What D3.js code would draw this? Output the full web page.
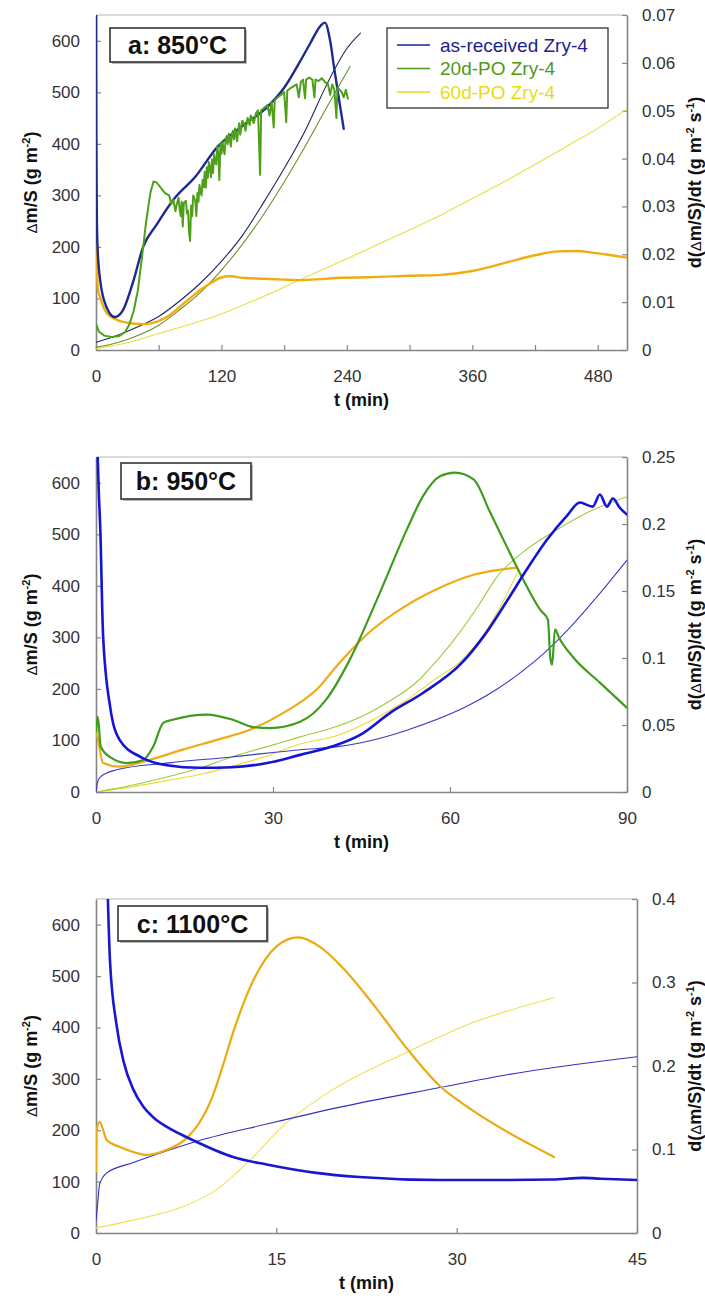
<!DOCTYPE html>
<html><head><meta charset="utf-8">
<script src="https://cdn.jsdelivr.net/npm/d3@7"></script>
<style>body{margin:0;background:#fff}svg{display:block;font-family:"Liberation Sans",Arial,sans-serif}</style>
</head><body><svg id="c" width="705" height="1306"></svg>
<script>
// ---------- Panel a: 850°C (t in min) ----------
const aXTicks = [0,60,120,180,240,300,360,420,480];
const aXLabels = [0,120,240,360,480];
const aLeftTicks = [0,100,200,300,400,500,600];
const aRightTicks = [0,0.01,0.02,0.03,0.04,0.05,0.06,0.07];
// mass gain (left axis, g m-2)
const aAsRecMass = [[0,15],[20,28],[40,45],[60,65],[80,95],[100,130],[120,172],[140,222],[160,285],[180,352],[200,425],[220,512],[227,540],[240,585],[253,615]];
const a20dMass = [[0,5],[20,14],[40,28],[60,48],[80,78],[100,112],[120,155],[140,205],[160,262],[180,326],[200,395],[220,468],[243,550]];
const a60dMass = [[0,3],[30,14],[60,32],[90,50],[120,70],[150,95],[180,122],[210,150],[240,177],[270,205],[300,233],[330,262],[360,294],[390,326],[420,360],[450,395],[480,430],[508,468]];
// rates (right axis, g m-2 s-1)
const aAsRecRate = [[0,0.0754],[0.3,0.0452],[0.8,0.028],[1.5,0.0215],[4,0.0146],[10,0.009],[18,0.0069],[26,0.0084],[36,0.0146],[45,0.0215],[58,0.0262],[74,0.0314],[95,0.0362],[116,0.0424],[140,0.0468],[164,0.0508],[180,0.0548],[195,0.0602],[205,0.0641],[215,0.0678],[219,0.0684],[224,0.0646],[228,0.0587],[233,0.0517],[237,0.0462]];
const a20dRate = [[0,0.0054],[3,0.0038],[8,0.003],[15,0.0027],[22,0.0029],[28,0.0038],[32,0.0054],[36,0.0081],[40,0.0124],[44,0.0194],[48,0.0269],[52,0.0328],[55,0.0352],[58,0.035],[62,0.0339],[66,0.0328],[70,0.0323],[72,0.0305],[74,0.0314],[76,0.029],[77,0.0302],[79,0.0318],[80,0.0295],[81,0.028],[82,0.031],[83,0.0258],[84,0.0307],[86,0.0312],[87,0.0285],[88,0.0291],[89,0.0248],[90,0.0228],[91,0.0302],[92,0.028],[93,0.0323],[95,0.0312],[96,0.028],[97,0.0328],[98,0.031],[99,0.0345],[100,0.033],[101,0.0323],[102,0.0355],[103,0.034],[104,0.0372],[105,0.0339],[106,0.0382],[107,0.036],[108,0.0393],[109,0.038],[110,0.0361],[111,0.0398],[112,0.037],[113,0.0409],[114,0.039],[115,0.0388],[116,0.0425],[117,0.041],[118,0.0355],[119,0.0431],[120,0.041],[121,0.0436],[122,0.042],[123,0.0409],[124,0.044],[125,0.0447],[126,0.043],[127,0.0452],[128,0.044],[129,0.0425],[130,0.045],[131,0.0458],[132,0.044],[133,0.0463],[135,0.0436],[136,0.046],[137,0.0474],[138,0.045],[140,0.0479],[142,0.047],[143,0.0458],[145,0.0485],[147,0.047],[148,0.049],[151,0.0474],[153,0.0495],[155,0.0501],[157,0.0366],[158,0.0501],[161,0.0506],[164,0.0512],[166,0.049],[168,0.0519],[170,0.0465],[171,0.0522],[174,0.0528],[177,0.0533],[180,0.0539],[182,0.0476],[183,0.0542],[186,0.0547],[189,0.0551],[192,0.0555],[194,0.0528],[196,0.056],[198,0.0565],[200,0.0526],[201,0.0565],[204,0.0569],[207,0.0565],[209,0.0528],[210,0.0565],[213,0.0562],[216,0.0568],[219,0.056],[222,0.0555],[224,0.0533],[226,0.0555],[228,0.0544],[230,0.0485],[231,0.0549],[233,0.0544],[235,0.0539],[237,0.0528],[239,0.0544],[241,0.0525]];
const a60dRate = [[0,0.022],[1,0.016],[2,0.0125],[4,0.011],[10,0.0078],[20,0.0063],[30,0.0057],[45,0.0054],[58,0.0059],[70,0.0072],[80,0.009],[90,0.0108],[100,0.0126],[110,0.014],[119,0.0151],[128,0.0154],[140,0.0151],[160,0.0149],[180,0.0147],[195,0.0146],[215,0.0148],[234,0.0151],[260,0.0152],[300,0.0155],[330,0.0157],[360,0.0165],[393,0.0183],[420,0.0198],[442,0.0206],[460,0.0207],[473,0.0204],[490,0.0199],[508,0.0193]];

// ---------- Panel b: 950°C ----------
const bXTicks = [0,30,60,90];
const bLeftTicks = [0,100,200,300,400,500,600];
const bRightTicks = [0,0.05,0.1,0.15,0.2,0.25];
const bAsRecMass = [[0,0],[0.3,20],[0.7,29],[3.5,43],[12,56],[23,68],[34.6,82],[41,88],[44.7,95],[52.7,120],[64,173],[68,200],[72,232],[76,270],[80,315],[85,380],[90,450]];
const b20dMass = [[0,0],[3,6],[8,18],[12,29],[18,48],[23,68],[29,88],[34.6,107],[41,128],[46,152],[50,178],[54,210],[58,258],[62,315],[65,365],[68,418],[72,462],[78,508],[84,546],[90,573]];
const b60dMass = [[0,0],[6,10],[12,22],[18,35],[23,50],[29,70],[34.6,93],[41,110],[46,135],[52.7,179],[57,215],[62,256],[66,310],[69,370],[71.4,425]];
const bAsRecRate = [[0.15,0.27],[0.5,0.22],[0.7,0.2],[1.2,0.117],[2.4,0.0635],[4,0.0389],[7.5,0.0262],[12,0.02],[17.6,0.0181],[23,0.0185],[29,0.0216],[34.6,0.0277],[40,0.0339],[44.7,0.0424],[49.8,0.0589],[55.4,0.0739],[62,0.0963],[66,0.118],[70,0.145],[73,0.166],[76.4,0.188],[79.8,0.206],[82,0.216],[84.2,0.213],[85.4,0.222],[86.6,0.213],[87.6,0.219],[88.8,0.212],[90,0.207]];
const b20dRate = [[0,0.045],[0.3,0.056],[0.8,0.034],[2.4,0.026],[5.2,0.0216],[8,0.0239],[9.7,0.0339],[11.4,0.0516],[13,0.0539],[18.8,0.0578],[23.2,0.0539],[26.6,0.0485],[29.5,0.0477],[34.6,0.0524],[39,0.0689],[43,0.0986],[48,0.1475],[52.7,0.196],[55.4,0.2206],[58.3,0.2356],[60.8,0.2383],[64,0.2333],[66.8,0.2087],[69.6,0.1833],[72.4,0.1586],[75.3,0.1359],[76.6,0.1286],[77,0.1001],[77.3,0.095],[77.8,0.1213],[78.5,0.115],[80.8,0.1009],[85.4,0.0816],[90,0.0628]];
const b60dRate = [[0,0.046],[0.3,0.04],[1.2,0.0216],[4,0.0189],[9,0.0239],[14.7,0.0316],[20.5,0.0389],[26,0.0462],[31.7,0.0589],[37.4,0.0765],[41.4,0.097],[45.9,0.1175],[52.7,0.1395],[58.3,0.1525],[64,0.1621],[71.4,0.1675]];

// ---------- Panel c: 1100°C ----------
const cXTicks = [0,15,30,45];
const cLeftTicks = [0,100,200,300,400,500,600];
const cRightTicks = [0,0.1,0.2,0.3,0.4];
const cAsRecMass = [[0,25],[0.15,60],[0.3,95],[0.9,117],[3.1,137],[5.9,160],[8.6,180],[14.2,212],[20.3,245],[28.6,283],[34.2,308],[45,343]];
const c60dMass = [[0,10],[3.1,25],[7.2,51],[10,84],[12.8,142],[15.5,207],[19.7,279],[25.8,351],[31.3,409],[38.1,458]];
const cAsRecRate = [[0.95,0.42],[1.16,0.327],[1.7,0.25],[2.3,0.205],[3.1,0.172],[3.9,0.152],[4.8,0.138],[5.9,0.127],[8.1,0.111],[11.4,0.091],[14.2,0.082],[18.3,0.072],[21.9,0.067],[28.6,0.0634],[34.1,0.0634],[38,0.064],[40.5,0.066],[42,0.065],[45,0.0634]];
const c60dRate = [[0,0.0738],[0.05,0.123],[0.3,0.133],[0.9,0.111],[2,0.103],[3.1,0.097],[4.2,0.0935],[5.9,0.0996],[7.5,0.113],[8.6,0.132],[9.6,0.16],[10.5,0.198],[11.4,0.24],[13.1,0.303],[15,0.343],[16.8,0.354],[18.6,0.343],[20.5,0.318],[23,0.275],[25.8,0.222],[28.6,0.176],[30.8,0.152],[34.1,0.122],[38.1,0.091]];

const legendNames = ["as-received Zry-4","20d-PO Zry-4","60d-PO Zry-4"];
const legendColors = ["#1c2290","#4e9a14","#e8dc10"];

const svg = d3.select("#c");
const defs = svg.append("defs");

const panels = [
  {id:"a", left:96, right:627, top:15, bottom:350, xDomain:[0,508], rDomain:[0,0.07],
   xTicks:aXTicks, xLabels:aXLabels, lTicks:aLeftTicks, rTicks:aRightTicks,
   label:"a: 850°C", box:[110,28,135,34],
   series:[
     {d:a60dMass,ax:"L",c:"#e6e040",w:1.1},
     {d:a20dMass,ax:"L",c:"#6f8f2a",w:1.1},
     {d:aAsRecMass,ax:"L",c:"#20245e",w:1.1},
     {d:a60dRate,ax:"R",c:"#f0ac10",w:2.4},
     {d:aAsRecRate,ax:"R",c:"#1f2a8c",w:2.4},
     {d:a20dRate,ax:"R",c:"#4ea01a",w:2.0}
   ]},
  {id:"b", left:96, right:627, top:457, bottom:792, xDomain:[0,90], rDomain:[0,0.25],
   xTicks:bXTicks, xLabels:bXTicks, lTicks:bLeftTicks, rTicks:bRightTicks,
   label:"b: 950°C", box:[121,463,130,36],
   series:[
     {d:b60dMass,ax:"L",c:"#ecdc30",w:1.1},
     {d:b20dMass,ax:"L",c:"#9ccc3c",w:1.1},
     {d:bAsRecMass,ax:"L",c:"#3a3ac8",w:1.1},
     {d:b60dRate,ax:"R",c:"#f0aa14",w:2.2},
     {d:b20dRate,ax:"R",c:"#3f9c1e",w:2.2},
     {d:bAsRecRate,ax:"R",c:"#1414d8",w:2.6}
   ]},
  {id:"c", left:96, right:637, top:899, bottom:1233, xDomain:[0,45], rDomain:[0,0.4],
   xTicks:cXTicks, xLabels:cXTicks, lTicks:cLeftTicks, rTicks:cRightTicks,
   label:"c: 1100°C", box:[118,906,149,35],
   series:[
     {d:c60dMass,ax:"L",c:"#f0e050",w:1.1},
     {d:cAsRecMass,ax:"L",c:"#3030c4",w:1.1},
     {d:c60dRate,ax:"R",c:"#eaaa10",w:2.2},
     {d:cAsRecRate,ax:"R",c:"#1818d0",w:2.6}
   ]}
];

function titleText(g, x, y, parts, rotate){
  const t = g.append("text").attr("text-anchor","middle").attr("font-weight","bold")
    .attr("font-size",18).attr("fill","#111")
    .attr("transform", rotate ? `translate(${x},${y}) rotate(-90)` : `translate(${x},${y})`);
  let shift = 0;
  parts.forEach(p=>{
    const ts = t.append("tspan").text(p.t);
    let dy = 0;
    if(p.sup){ dy = -7 - shift; shift = -7; ts.attr("font-size",11);}
    else { dy = -shift; shift = 0; if(p.small) ts.attr("font-size",15).attr("font-weight","normal"); }
    if(dy) ts.attr("dy",dy);
  });
}

const fmt = d => String(+d.toFixed(3));

panels.forEach(p=>{
  const x = d3.scaleLinear().domain(p.xDomain).range([p.left,p.right]);
  const yL = d3.scaleLinear().domain([0,650]).range([p.bottom,p.top]);
  const yR = d3.scaleLinear().domain(p.rDomain).range([p.bottom,p.top]);
  const g = svg.append("g");
  defs.append("clipPath").attr("id","clip"+p.id).append("rect")
    .attr("x",p.left).attr("y",p.top).attr("width",p.right-p.left).attr("height",p.bottom-p.top);

  g.append("line").attr("x1",p.left).attr("x2",p.right).attr("y1",p.top).attr("y2",p.top)
    .attr("stroke","#b8b8b8").attr("stroke-width",1.2);

  const axStyle = sel=>{
    sel.select(".domain").attr("stroke","#858585").attr("stroke-width",1.6);
    sel.selectAll(".tick line").attr("stroke","#858585").attr("stroke-width",1.2);
    sel.selectAll(".tick text").attr("font-size",17).attr("fill","#333").attr("font-family","Liberation Sans, Arial, sans-serif");
  };
  g.append("g").attr("transform",`translate(0,${p.bottom})`)
    .call(d3.axisBottom(x).tickValues(p.xTicks).tickSizeInner(-5).tickSizeOuter(0).tickPadding(20)
      .tickFormat(d=> p.xLabels.includes(d) ? String(d) : ""))
    .call(axStyle);
  g.append("g").attr("transform",`translate(${p.left},0)`)
    .call(d3.axisLeft(yL).tickValues(p.lTicks).tickSizeInner(-5).tickSizeOuter(0).tickPadding(16))
    .call(axStyle);
  g.append("g").attr("transform",`translate(${p.right},0)`)
    .call(d3.axisRight(yR).tickValues(p.rTicks).tickSizeInner(-5).tickSizeOuter(0).tickPadding(15).tickFormat(fmt))
    .call(axStyle);

  const plot = g.append("g").attr("clip-path",`url(#clip${p.id})`);
  p.series.forEach(s=>{
    const ys = s.ax==="L" ? yL : yR;
    const line = d3.line().x(d=>x(d[0])).y(d=>ys(d[1])).curve(s.d.length>60 ? d3.curveLinear : d3.curveMonotoneX);
    plot.append("path").datum(s.d).attr("d",line).attr("fill","none")
      .attr("stroke",s.c).attr("stroke-width",s.w).attr("stroke-linejoin","round").attr("stroke-linecap","round");
  });

  const [bx,by,bw,bh] = p.box;
  g.append("rect").attr("x",bx+2).attr("y",by+2).attr("width",bw).attr("height",bh).attr("fill","#bbb");
  g.append("rect").attr("x",bx).attr("y",by).attr("width",bw).attr("height",bh)
    .attr("fill","#fff").attr("stroke","#333").attr("stroke-width",1.6);
  g.append("text").attr("x",bx+bw/2).attr("y",by+bh/2).attr("dy","0.36em").attr("text-anchor","middle")
    .attr("font-weight","bold").attr("font-size",25).attr("fill","#111").text(p.label);

  const cy = (p.top+p.bottom)/2;
  titleText(g, (p.left+p.right)/2, p.bottom+56, [{t:"t (min)"}], false);
  titleText(g, 37, cy, [{t:"Δ",small:true},{t:"m/S (g m"},{t:"-2",sup:true},{t:")"}], true);
  titleText(g, 701, cy, [{t:"d("},{t:"Δ",small:true},{t:"m/S)/dt (g m"},{t:"-2",sup:true},{t:" s"},{t:"-1",sup:true},{t:")"}], true);
});

const lg = svg.append("g");
lg.append("rect").attr("x",387).attr("y",28).attr("width",221).attr("height",80)
  .attr("fill","#fff").attr("stroke","#222").attr("stroke-width",1.2);
legendNames.forEach((n,i)=>{
  const y = 45 + i*23.5;
  lg.append("line").attr("x1",397).attr("x2",430).attr("y1",y).attr("y2",y)
    .attr("stroke",legendColors[i]).attr("stroke-width",1.6);
  lg.append("text").attr("x",440).attr("y",y).attr("dy","0.35em").attr("font-size",19)
    .attr("fill",legendColors[i]).text(n);
});
</script>
</body></html>
